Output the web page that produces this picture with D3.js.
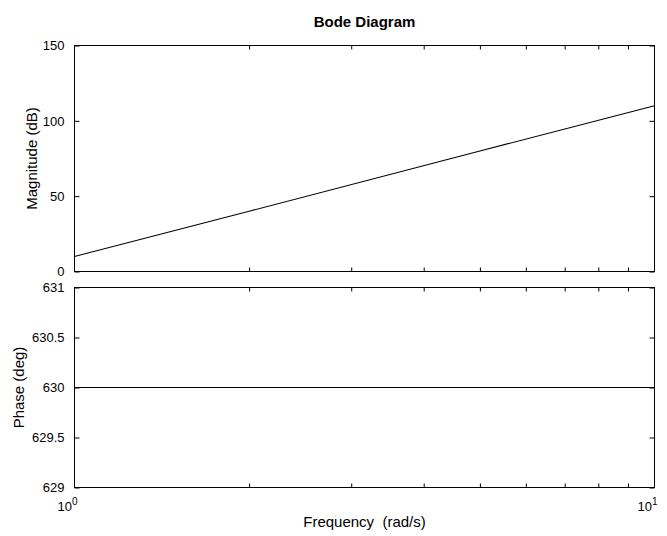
<!DOCTYPE html>
<html>
<head>
<meta charset="utf-8">
<script src="https://cdn.jsdelivr.net/npm/d3@7"></script>
<style>
body{margin:0;background:#fff;}
svg text{font-family:"Liberation Sans",Arial,Helvetica,sans-serif;fill:#000;}
</style>
</head>
<body>
<svg id="c" width="667" height="536"></svg>
<script>
const freq = [1, 2, 5, 10];
const magnitude = [10, 40, 80, 110];
const phase = [630, 630, 630, 630];
const magTicks = [0, 50, 100, 150];
const phaseTicks = [629, 629.5, 630, 630.5, 631];
const minorFreq = [2, 3, 4, 5, 6, 7, 8, 9];
const decades = [1, 10];

const svg = d3.select("#c");
const L = 74.5, R = 654.5;
const top1 = 45.5, bot1 = 271.5, top2 = 287.5, bot2 = 487.5;

const x = d3.scaleLog().domain([1, 10]).range([L, R]);
const yM = d3.scaleLinear().domain([0, 150]).range([bot1, top1]);
const yP = d3.scaleLinear().domain([629, 631]).range([bot2, top2]);

function panel(y, ticks, fmt, vals) {
  const g = svg.append("g");
  const [b, t] = y.range();
  g.append("rect").attr("x", L).attr("y", t).attr("width", R - L).attr("height", b - t)
    .attr("fill", "none").attr("stroke", "#000").attr("stroke-width", 1);
  const ya = d3.axisLeft(y).tickValues(ticks).tickSize(-5).tickPadding(10).tickFormat(fmt);
  const gy = g.append("g").attr("transform", `translate(${L},0)`).call(ya);
  gy.select(".domain").remove();
  gy.selectAll("text").style("font-size", "13px");
  const yr = d3.axisRight(y).tickValues(ticks).tickSize(-5).tickFormat("");
  const gyr = g.append("g").attr("transform", `translate(${R},0)`).call(yr);
  gyr.select(".domain").remove();
  const xt = d3.axisTop(x).tickValues(minorFreq).tickSize(-4).tickFormat("");
  const gxt = g.append("g").attr("transform", `translate(0,${t})`).call(xt);
  gxt.select(".domain").remove();
  const xb = d3.axisBottom(x).tickValues(minorFreq).tickSize(-4).tickFormat("");
  const gxb = g.append("g").attr("transform", `translate(0,${b})`).call(xb);
  gxb.select(".domain").remove();
  const line = d3.line().x((d, i) => x(freq[i])).y(d => y(d));
  g.append("path").datum(vals).attr("d", line).attr("fill", "none")
    .attr("stroke", "#000").attr("stroke-width", 1.1);
  return g;
}

panel(yM, magTicks, d3.format("d"), magnitude);
panel(yP, phaseTicks, d => (d % 1 === 0 ? d3.format("d")(d) : d3.format(".1f")(d)), phase);

const xl = svg.append("g");
decades.forEach(d => {
  const t = xl.append("text").attr("x", x(d) - 7).attr("y", 511).attr("text-anchor", "middle")
    .style("font-size", "13px");
  t.append("tspan").text("10");
  t.append("tspan").attr("dy", -6).style("font-size", "10px").text(String(Math.log10(d)));
});

svg.append("text").attr("x", (L + R) / 2).attr("y", 27).attr("text-anchor", "middle")
  .style("font-size", "15px").style("font-weight", "bold").text("Bode Diagram");

svg.append("text").attr("x", (L + R) / 2).attr("y", 527).attr("text-anchor", "middle")
  .style("font-size", "15px").attr("xml:space", "preserve").text("Frequency  (rad/s)");

svg.append("text").attr("transform", `translate(37,${(top1 + bot1) / 2}) rotate(-90)`)
  .attr("text-anchor", "middle").style("font-size", "15px").text("Magnitude (dB)");

svg.append("text").attr("transform", `translate(24,${(top2 + bot2) / 2}) rotate(-90)`)
  .attr("text-anchor", "middle").style("font-size", "15px").text("Phase (deg)");
</script>
</body>
</html>
